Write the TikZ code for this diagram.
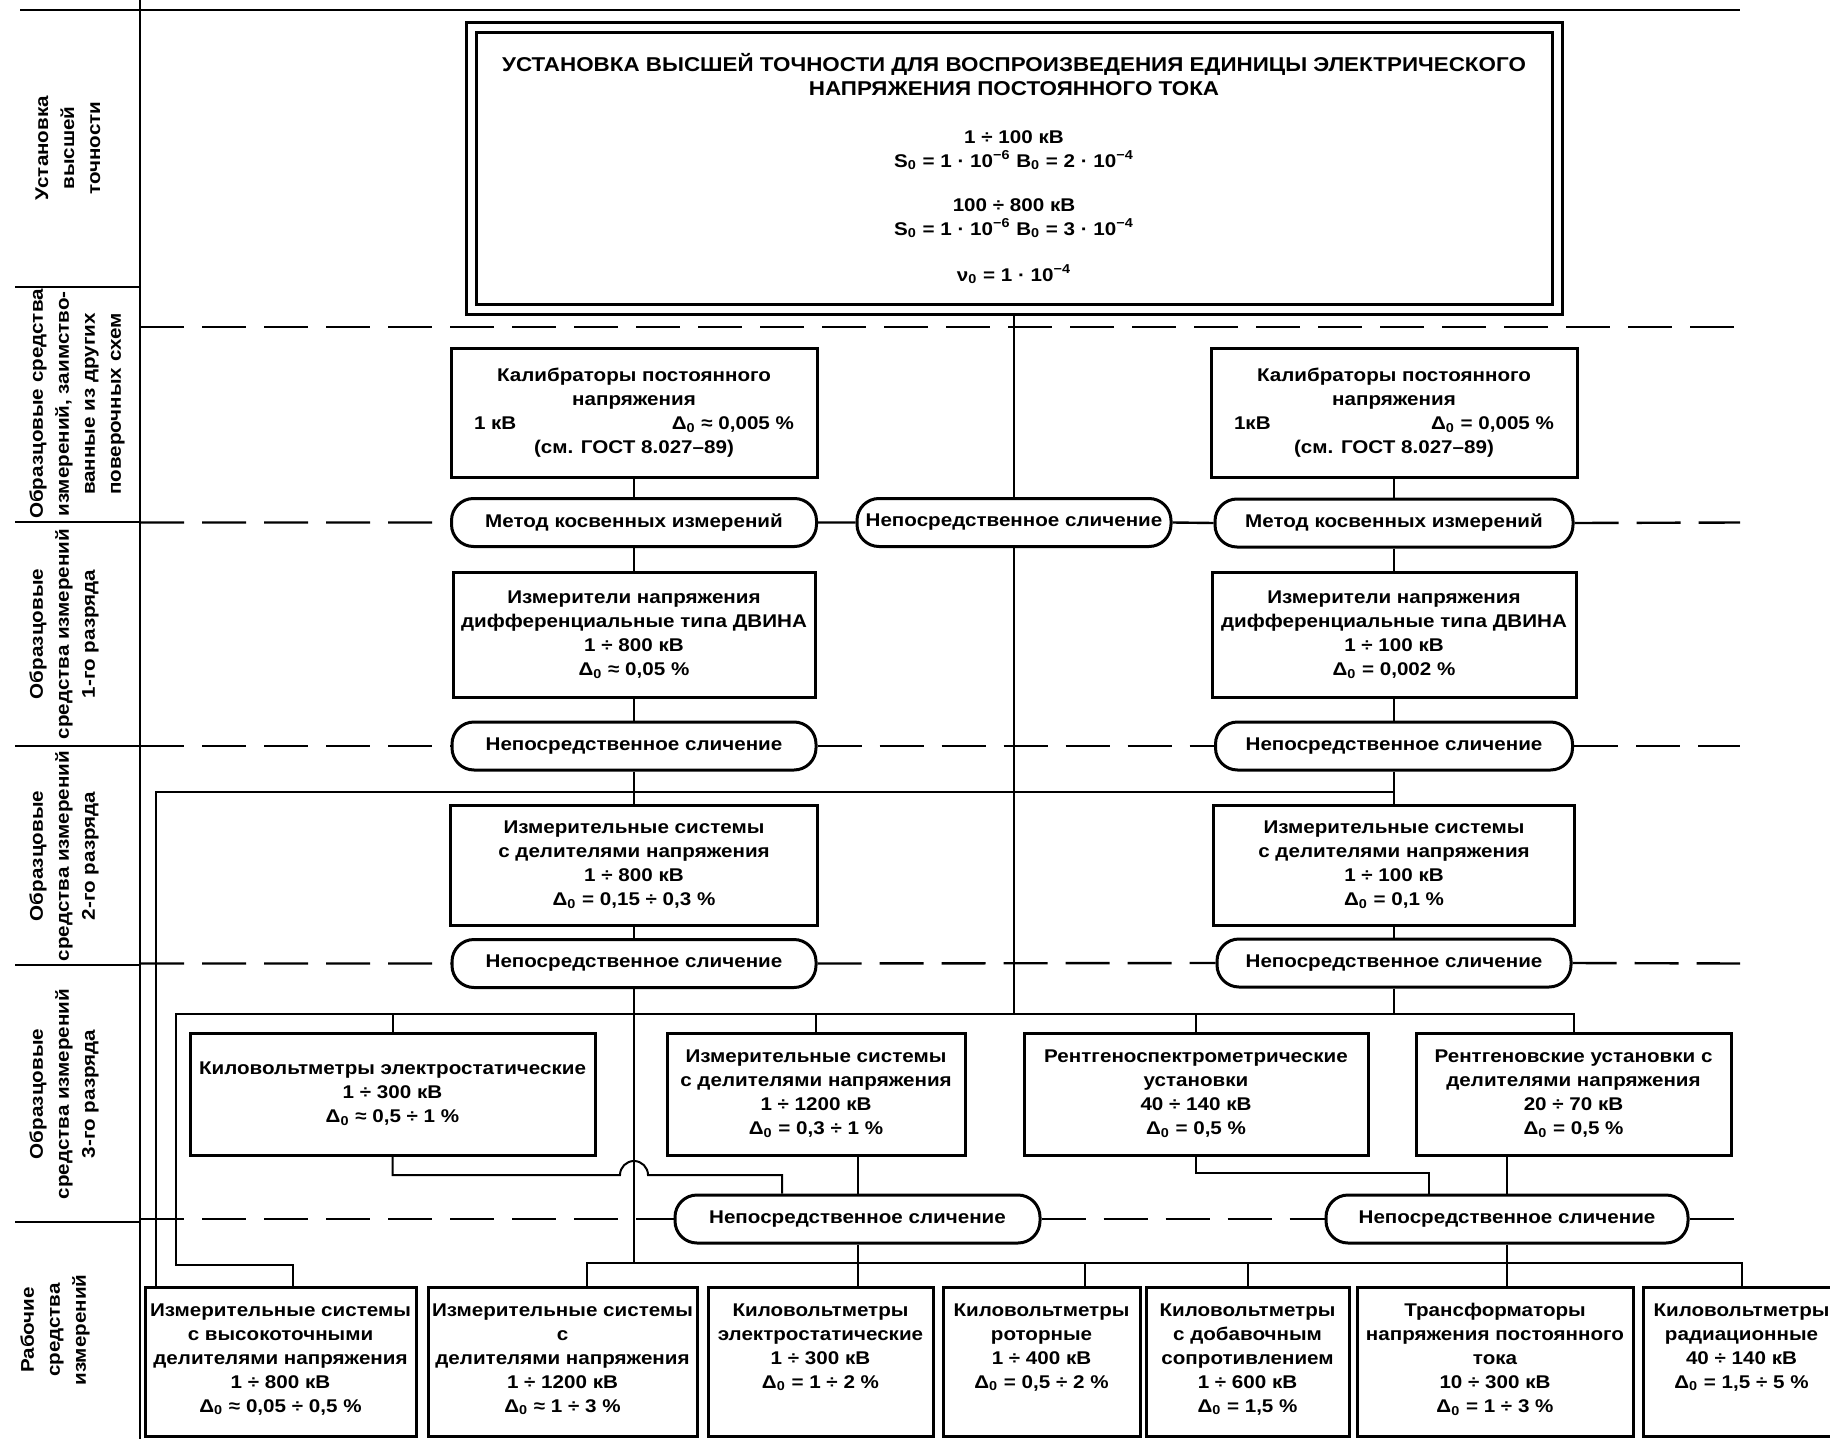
\documentclass[tikz,border=0pt]{standalone}
\usepackage{fontspec}
\setmainfont{Liberation Sans}[FakeStretch=1.12]
\begin{document}
\begin{tikzpicture}[x=0.5pt,y=-0.5pt,
  every node/.style={font=\fontsize{9.2}{12}\selectfont\bfseries},
  box/.style={draw,line width=1.5pt,rectangle,inner sep=0pt,align=center},
  oval/.style={draw,line width=1.5pt,rounded corners=11pt,inner sep=0pt,minimum height=24pt,align=center},
  conn/.style={line width=1pt},
  rowsep/.style={line width=1.2pt,dash pattern=on 22pt off 9pt},
  frame/.style={line width=1.3pt},
  lbl/.style={rotate=90,align=center,inner sep=0pt,font=\fontsize{9.2}{13}\selectfont\bfseries},
  txt/.style={align=center,anchor=north,inner sep=0pt}
]
\useasboundingbox (0,0) rectangle (1830,1439);

% frame of the table
\coordinate (tl) at (20,10);
\coordinate (tr) at (1740,10);
\coordinate (vt) at (140,0);
\coordinate (vb) at (140,1439);
\draw[frame] (tl) -- (tr);
\draw[frame] (vt) -- (vb);
\foreach \yy in {287,522,746,965,1222} \draw[frame] (15,\yy) -- (140,\yy);

% row labels
\node[lbl] (L1) at (68,148) {Установка\\высшей\\точности};
\node[lbl] (L2) at (77,404) {Образцовые средства\\измерений, заимство-\\ванные из других\\поверочных схем};
\node[lbl] (L3) at (64,634) {Образцовые\\средства измерений\\1-го разряда};
\node[lbl] (L4) at (64,856) {Образцовые\\средства измерений\\2-го разряда};
\node[lbl] (L5) at (64,1094) {Образцовые\\средства измерений\\3-го разряда};
\node[lbl] (L6) at (55,1330) {Рабочие\\средства\\измерений};

% top box
\node[draw,line width=1.5pt,double,double distance=3.5pt,minimum width=543pt,minimum height=140.5pt,inner sep=0pt,align=center] (Top) at (1014,168.5)
{{\fontsize{10}{12}\selectfont УСТАНОВКА ВЫСШЕЙ ТОЧНОСТИ ДЛЯ ВОСПРОИЗВЕДЕНИЯ ЕДИНИЦЫ ЭЛЕКТРИЧЕСКОГО}\\
{\fontsize{10}{12}\selectfont НАПРЯЖЕНИЯ ПОСТОЯННОГО ТОКА}\\[12pt]
1 ÷ 100 кВ\\
S\textsubscript{0} = 1 · 10\textsuperscript{−6} B\textsubscript{0} = 2 · 10\textsuperscript{−4}\\[10pt]
100 ÷ 800 кВ\\
S\textsubscript{0} = 1 · 10\textsuperscript{−6} B\textsubscript{0} = 3 · 10\textsuperscript{−4}\\[11pt]
ν\textsubscript{0} = 1 · 10\textsuperscript{−4}};

% left chain
\node[box,minimum width=183pt,minimum height=64.5pt] (KL) at (634,413)
{Калибраторы постоянного\\напряжения\\\makebox[160pt]{1 кВ\hfill Δ\textsubscript{0} ≈ 0,005 \%}\\(см. ГОСТ 8.027–89)};
\node[oval,minimum width=182.5pt] (O2L) at (634,522.5) {Метод косвенных измерений};
\node[box,minimum width=181pt,minimum height=62.5pt] (R1L) at (634,635)
{Измерители напряжения\\дифференциальные типа ДВИНА\\1 ÷ 800 кВ\\Δ\textsubscript{0} ≈ 0,05 \%};
\node[oval,minimum width=182pt] (O3L) at (634,746) {Непосредственное сличение};
\node[box,minimum width=183.5pt,minimum height=60pt] (R2L) at (634,865)
{Измерительные системы\\с делителями напряжения\\1 ÷ 800 кВ\\Δ\textsubscript{0} = 0,15 ÷ 0,3 \%};
\node[oval,minimum width=182pt] (O4L) at (634,963.5) {Непосредственное сличение};

% middle
\node[oval,minimum width=157pt] (O2M) at (1014,522.5) {Непосредственное сличение};

% right chain
\node[box,minimum width=183pt,minimum height=64.5pt] (KR) at (1394,413)
{Калибраторы постоянного\\напряжения\\\makebox[160pt]{1кВ\hfill Δ\textsubscript{0} = 0,005 \%}\\(см. ГОСТ 8.027–89)};
\node[oval,minimum width=179pt] (O2R) at (1394,523) {Метод косвенных измерений};
\node[box,minimum width=182pt,minimum height=62.5pt] (R1R) at (1394,635)
{Измерители напряжения\\дифференциальные типа ДВИНА\\1 ÷ 100 кВ\\Δ\textsubscript{0} = 0,002 \%};
\node[oval,minimum width=178.5pt] (O3R) at (1394,746) {Непосредственное сличение};
\node[box,minimum width=180.5pt,minimum height=60pt] (R2R) at (1394,865)
{Измерительные системы\\с делителями напряжения\\1 ÷ 100 кВ\\Δ\textsubscript{0} = 0,1 \%};
\node[oval,minimum width=177pt] (O4R) at (1394,963) {Непосредственное сличение};

% third rank
\node[box,minimum width=202.5pt,minimum height=61pt] (R3a) at (392.5,1094)
{Киловольтметры электростатические\\1 ÷ 300 кВ\\Δ\textsubscript{0} ≈ 0,5 ÷ 1 \%};
\node[box,minimum width=149pt,minimum height=61pt] (R3b) at (816,1094)
{Измерительные системы\\с делителями напряжения\\1 ÷ 1200 кВ\\Δ\textsubscript{0} = 0,3 ÷ 1 \%};
\node[box,minimum width=172pt,minimum height=61pt] (R3c) at (1196,1094)
{Рентгеноспектрометрические\\установки\\40 ÷ 140 кВ\\Δ\textsubscript{0} = 0,5 \%};
\node[box,minimum width=157.5pt,minimum height=61pt] (R3d) at (1573.5,1094)
{Рентгеновские установки с\\делителями напряжения\\20 ÷ 70 кВ\\Δ\textsubscript{0} = 0,5 \%};

\node[oval,minimum width=182.5pt] (O5L) at (857.5,1219) {Непосредственное сличение};
\node[oval,minimum width=181pt] (O5R) at (1507,1219) {Непосредственное сличение};

% working instruments
\node[box,minimum width=135.5pt,minimum height=74.5pt] (W1) at (280.5,1361.5) {};
\node[box,minimum width=134.5pt,minimum height=74.5pt] (W2) at (562.5,1361.5) {};
\node[box,minimum width=112.5pt,minimum height=74.5pt] (W3) at (820.5,1361.5) {};
\node[box,minimum width=98.5pt,minimum height=74.5pt] (W4) at (1041.5,1361.5) {};
\node[box,minimum width=101.5pt,minimum height=74.5pt] (W5) at (1247.5,1361.5) {};
\node[box,minimum width=138pt,minimum height=74.5pt] (W6) at (1495,1361.5) {};
\node[box,minimum width=98.5pt,minimum height=74.5pt] (W7) at (1741.5,1361.5) {};
\node[txt] (W1t) at (280.5,1303) {Измерительные системы\\с высокоточными\\делителями напряжения\\1 ÷ 800 кВ\\Δ\textsubscript{0} ≈ 0,05 ÷ 0,5 \%};
\node[txt] (W2t) at (562.5,1303) {Измерительные системы\\с\\делителями напряжения\\1 ÷ 1200 кВ\\Δ\textsubscript{0} ≈ 1 ÷ 3 \%};
\node[txt] (W3t) at (820.5,1303) {Киловольтметры\\электростатические\\1 ÷ 300 кВ\\Δ\textsubscript{0} = 1 ÷ 2 \%};
\node[txt] (W4t) at (1041.5,1303) {Киловольтметры\\роторные\\1 ÷ 400 кВ\\Δ\textsubscript{0} = 0,5 ÷ 2 \%};
\node[txt] (W5t) at (1247.5,1303) {Киловольтметры\\с добавочным\\сопротивлением\\1 ÷ 600 кВ\\Δ\textsubscript{0} = 1,5 \%};
\node[txt] (W6t) at (1495,1303) {Трансформаторы\\напряжения постоянного\\тока\\10 ÷ 300 кВ\\Δ\textsubscript{0} = 1 ÷ 3 \%};
\node[txt] (W7t) at (1741.5,1303) {Киловольтметры\\радиационные\\40 ÷ 140 кВ\\Δ\textsubscript{0} = 1,5 ÷ 5 \%};

% dashed row separators
\coordinate (s1l) at (140,327);   \coordinate (s1r) at (1740,327);
\coordinate (s2l) at (140,522.5); \coordinate (s2r) at (1740,522.5);
\coordinate (s3l) at (140,746);   \coordinate (s3r) at (1740,746);
\coordinate (s4l) at (140,963.5); \coordinate (s4r) at (1740,963.5);
\coordinate (s5l) at (140,1219);  \coordinate (s5r) at (1740,1219);
\draw[rowsep] (s1l) -- (s1r);
\draw[rowsep] (s2l) -- (O2L.west) (O2L.east) -- (O2M.west) (O2M.east) -- (O2R.west) (O2R.east) -- (s2r);
\draw[rowsep] (s3l) -- (O3L.west) (O3L.east) -- (O3R.west) (O3R.east) -- (s3r);
\draw[rowsep] (s4l) -- (O4L.west) (O4L.east) -- (O4R.west) (O4R.east) -- (s4r);
\draw[rowsep] (s5l) -- (O5L.west) (O5L.east) -- (O5R.west) (O5R.east) -- (s5r);

% connectors: centre line
\coordinate (bBl) at (176,1014);
\draw[conn,shorten <=2.5pt] (Top.south) -- (O2M.north);
\draw[conn] (O2M.south) -- (O2M.south |- bBl);

% chains
\draw[conn] (KL) -- (O2L);
\draw[conn] (O2L) -- (R1L);
\draw[conn] (R1L) -- (O3L);
\draw[conn] (O3L) -- (R2L);
\draw[conn] (R2L) -- (O4L);
\draw[conn] (KR) -- (O2R);
\draw[conn] (O2R) -- (R1R);
\draw[conn] (R1R) -- (O3R);
\draw[conn] (O3R) -- (R2R);
\draw[conn] (R2R) -- (O4R);
\draw[conn] (O4R.south) -- (O4R.south |- bBl);

% bus A
\coordinate (aL) at (156,792);
\draw[conn] (W1.north -| aL) -- (aL) -- (aL -| R2R.north);

% bus B
\coordinate (kW) at (293,1265);
\draw[conn] (W1.north -| kW) -- (kW) -| (bBl) -- (bBl -| R3d.north) -- (R3d.north);
\draw[conn] (bBl -| R3a.north) -- (R3a.north);
\draw[conn] (bBl -| R3b.north) -- (R3b.north);
\draw[conn] (bBl -| R3c.north) -- (R3c.north);

% bottom bus
\coordinate (bbL) at (587,1263);
\coordinate (bbR) at (1741.5,1263);
\coordinate (d4) at (1085,1263);
\draw[conn] (O4L.south) -- (O4L.south |- bbL);
\draw[conn] (W2.north -| bbL) -- (bbL) -- (bbR) -- (W7.north);
\draw[conn] (d4) -- (W4.north -| d4);
\draw[conn] (bbL -| W5.north) -- (W5.north);
\draw[conn] (O5L.south) -- (W3.north -| O5L.south);
\draw[conn] (O5R.south) -- (W6.north -| O5R.south);

% third rank to lower ovals
\coordinate (hb) at (782,1175);
\coordinate (bmp) at (620,1175);
\draw[conn] (R3a.south) -- (R3a.south |- hb) -- (bmp) arc[start angle=180,end angle=0,radius=7pt] -- (hb) -- (hb |- O5L.north);
\draw[conn] (R3b.south -| O5L.north) -- (O5L.north);
\coordinate (hc) at (1429,1173);
\draw[conn] (R3c.south) |- (hc) -- (hc |- O5R.north);
\draw[conn] (R3d.south -| O5R.north) -- (O5R.north);
\end{tikzpicture}
\end{document}
